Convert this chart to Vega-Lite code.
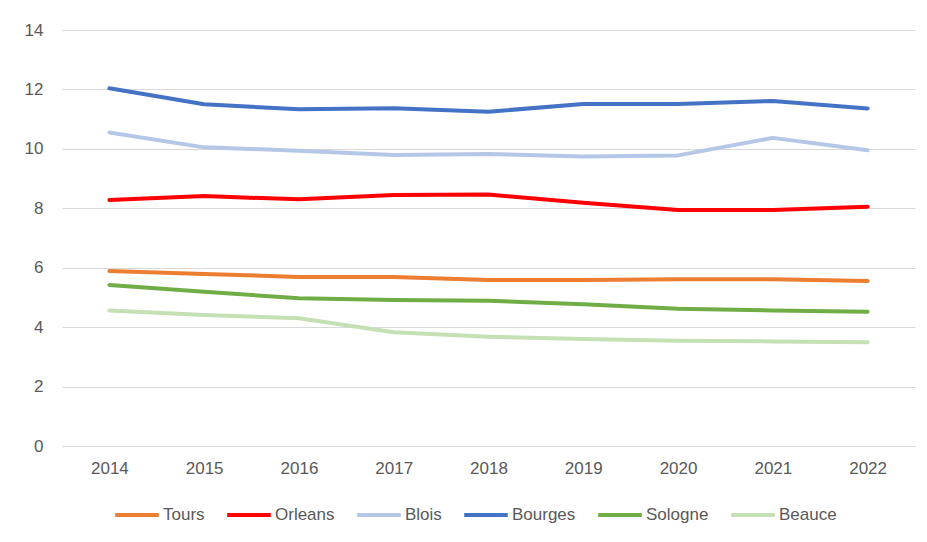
{
  "$schema": "https://vega.github.io/schema/vega-lite/v6.json",
  "autosize": "none",
  "width": 853,
  "height": 416,
  "padding": {"left": 62, "top": 30, "right": 12, "bottom": 96},
  "background": "white",
  "config": {
    "view": {"stroke": null},
    "font": "Liberation Sans"
  },
  "data": {
    "values": [
      {"year": "2014", "site": "Tours", "v": 5.89},
      {"year": "2015", "site": "Tours", "v": 5.79},
      {"year": "2016", "site": "Tours", "v": 5.69},
      {"year": "2017", "site": "Tours", "v": 5.69},
      {"year": "2018", "site": "Tours", "v": 5.59},
      {"year": "2019", "site": "Tours", "v": 5.59},
      {"year": "2020", "site": "Tours", "v": 5.61},
      {"year": "2021", "site": "Tours", "v": 5.61},
      {"year": "2022", "site": "Tours", "v": 5.55},
      {"year": "2014", "site": "Orleans", "v": 8.28},
      {"year": "2015", "site": "Orleans", "v": 8.41},
      {"year": "2016", "site": "Orleans", "v": 8.30},
      {"year": "2017", "site": "Orleans", "v": 8.45},
      {"year": "2018", "site": "Orleans", "v": 8.46},
      {"year": "2019", "site": "Orleans", "v": 8.19},
      {"year": "2020", "site": "Orleans", "v": 7.94},
      {"year": "2021", "site": "Orleans", "v": 7.94},
      {"year": "2022", "site": "Orleans", "v": 8.05},
      {"year": "2014", "site": "Blois", "v": 10.55},
      {"year": "2015", "site": "Blois", "v": 10.05},
      {"year": "2016", "site": "Blois", "v": 9.94},
      {"year": "2017", "site": "Blois", "v": 9.79},
      {"year": "2018", "site": "Blois", "v": 9.83},
      {"year": "2019", "site": "Blois", "v": 9.74},
      {"year": "2020", "site": "Blois", "v": 9.78},
      {"year": "2021", "site": "Blois", "v": 10.37},
      {"year": "2022", "site": "Blois", "v": 9.95},
      {"year": "2014", "site": "Bourges", "v": 12.04},
      {"year": "2015", "site": "Bourges", "v": 11.5},
      {"year": "2016", "site": "Bourges", "v": 11.33},
      {"year": "2017", "site": "Bourges", "v": 11.37},
      {"year": "2018", "site": "Bourges", "v": 11.25},
      {"year": "2019", "site": "Bourges", "v": 11.51},
      {"year": "2020", "site": "Bourges", "v": 11.51},
      {"year": "2021", "site": "Bourges", "v": 11.61},
      {"year": "2022", "site": "Bourges", "v": 11.36},
      {"year": "2014", "site": "Sologne", "v": 5.42},
      {"year": "2015", "site": "Sologne", "v": 5.19},
      {"year": "2016", "site": "Sologne", "v": 4.97},
      {"year": "2017", "site": "Sologne", "v": 4.91},
      {"year": "2018", "site": "Sologne", "v": 4.89},
      {"year": "2019", "site": "Sologne", "v": 4.77},
      {"year": "2020", "site": "Sologne", "v": 4.62},
      {"year": "2021", "site": "Sologne", "v": 4.56},
      {"year": "2022", "site": "Sologne", "v": 4.52},
      {"year": "2014", "site": "Beauce", "v": 4.56},
      {"year": "2015", "site": "Beauce", "v": 4.41},
      {"year": "2016", "site": "Beauce", "v": 4.30},
      {"year": "2017", "site": "Beauce", "v": 3.83},
      {"year": "2018", "site": "Beauce", "v": 3.68},
      {"year": "2019", "site": "Beauce", "v": 3.60},
      {"year": "2020", "site": "Beauce", "v": 3.54},
      {"year": "2021", "site": "Beauce", "v": 3.52},
      {"year": "2022", "site": "Beauce", "v": 3.49}
    ]
  },
  "mark": {"type": "line", "strokeWidth": 4, "strokeCap": "round", "strokeJoin": "round"},
  "encoding": {
    "x": {
      "field": "year",
      "type": "ordinal",
      "scale": {"type": "point", "padding": 0.5},
      "axis": {
        "title": null,
        "labelAngle": 0,
        "labelFontSize": 17,
        "labelColor": "#595959",
        "labelPadding": 14,
        "ticks": false,
        "domainColor": "#D9D9D9",
        "domainWidth": 1,
        "grid": false
      }
    },
    "y": {
      "field": "v",
      "type": "quantitative",
      "scale": {"domain": [0, 14], "nice": false},
      "axis": {
        "title": null,
        "values": [0, 2, 4, 6, 8, 10, 12, 14],
        "labelFontSize": 17,
        "labelColor": "#595959",
        "labelPadding": 19,
        "ticks": false,
        "domain": false,
        "gridColor": "#D9D9D9",
        "gridWidth": 1
      }
    },
    "color": {
      "field": "site",
      "type": "nominal",
      "scale": {
        "domain": ["Tours", "Orleans", "Blois", "Bourges", "Sologne", "Beauce"],
        "range": ["#ED7D31", "#FF0000", "#B4C7E7", "#4472C4", "#70AD47", "#C5E0B4"]
      },
      "legend": {
        "title": null,
        "orient": "none",
        "direction": "horizontal",
        "legendX": 51,
        "legendY": 461,
        "symbolType": "stroke",
        "symbolSize": 1900,
        "symbolStrokeWidth": 4,
        "labelFont": "Liberation Sans",
        "labelFontSize": 17,
        "labelColor": "#595959",
        "labelOffset": 2,
        "columnPadding": 14
      }
    }
  }
}
